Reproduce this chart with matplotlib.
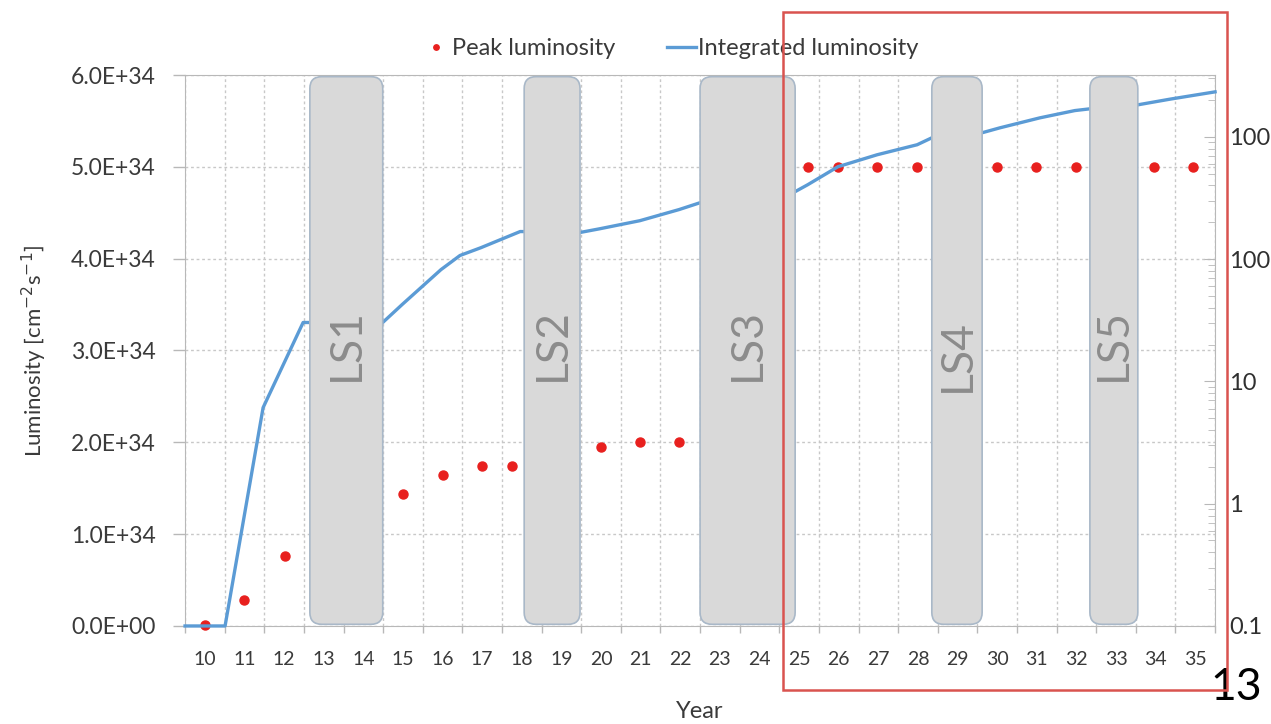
import matplotlib
matplotlib.use("Agg")
import matplotlib.pyplot as plt
import matplotlib.patches as patches
from matplotlib.ticker import FuncFormatter, FixedLocator, LogLocator, NullFormatter

plt.rcParams['font.family'] = ['Lato', 'DejaVu Sans']

# peak luminosity [cm-2 s-1], left axis
peak_years = [10.0, 11.0, 12.02, 15.0, 16.0, 17.0, 17.75, 20.0, 20.98, 21.97,
              25.22, 25.98, 26.97, 27.98, 29.99, 30.98, 31.99, 33.96, 34.94]
peak_lumi = [0.01e34, 0.28e34, 0.76e34, 1.44e34, 1.64e34, 1.74e34, 1.74e34,
             1.95e34, 2.0e34, 2.0e34,
             5.0e34, 5.0e34, 5.0e34, 5.0e34, 5.0e34, 5.0e34, 5.0e34, 5.0e34, 5.0e34]

# integrated luminosity [fb-1], right log axis
int_years = [9.5, 10.51, 11.47, 12.48, 12.65, 14.49, 14.98, 15.96, 16.44, 16.97,
             17.96, 19.47, 19.97, 20.98, 21.97, 22.5, 24.9, 25.22, 25.98, 26.97,
             27.98, 28.35, 29.62, 30.07, 31.08, 31.96, 32.34, 33.55, 34.36, 35.5]
int_lumi = [0.1, 0.1, 6.1, 30.3, 30.3, 30.3, 42.5, 82, 107, 124,
            168, 165, 177, 206, 254, 289, 356, 406, 569, 713,
            861, 981, 1079, 1184, 1429, 1638, 1693, 1825, 2030, 2330]

# long shutdowns (start, end in years)
ls_names = ['LS1', 'LS2', 'LS3', 'LS4', 'LS5']
ls_start = [12.65, 18.06, 22.5, 28.35, 32.34]
ls_end = [14.49, 19.47, 24.9, 29.62, 33.55]
ls_text_y = [0.51, 0.51, 0.51, 0.49, 0.51]

years = list(range(10, 36))

fig = plt.figure(figsize=(12.71, 7.24), dpi=100, facecolor='white')
ax = fig.add_axes([0.1456, 0.1354, 0.8104, 0.761])
ax2 = ax.twinx()

grey_txt = '#3a3a3a'
axis_col = '#b8b8b8'

# left axis
ax.set_xlim(9.5, 35.5)
ax.set_ylim(0, 6e34)
ax.yaxis.set_major_locator(FixedLocator([i * 1e34 for i in range(7)]))
ax.yaxis.set_major_formatter(FuncFormatter(lambda v, p: f"{v:.1E}"))
ax.tick_params(axis='y', colors=axis_col, labelcolor=grey_txt, labelsize=16.5,
               length=9, width=1, pad=12)
ax.grid(axis='y', color='#c8c8c8', linestyle=(0, (2, 2)), linewidth=1)

# x axis: ticks at category borders, labels at centres
ax.xaxis.set_major_locator(FixedLocator([y - 0.5 for y in years] + [35.5]))
ax.xaxis.set_major_formatter(NullFormatter())
ax.xaxis.set_minor_locator(FixedLocator(years))
ax.xaxis.set_minor_formatter(FuncFormatter(lambda v, p: f"{int(round(v))}"))
ax.tick_params(axis='x', which='major', colors=axis_col, length=5, width=1)
ax.tick_params(axis='x', which='minor', length=0, labelcolor=grey_txt,
               labelsize=14, pad=18)
ax.grid(axis='x', which='major', color='#c8c8c8', linestyle=(0, (2, 2)), linewidth=1)
ax.set_axisbelow(True)

for s in ['left', 'bottom', 'top']:
    ax.spines[s].set_color(axis_col)
ax.spines['right'].set_visible(False)

ax.set_xlabel('Year', fontsize=17, color=grey_txt, labelpad=24)
ax.set_ylabel('Luminosity [cm$^{-2}$s$^{-1}$]', fontsize=16, color=grey_txt, labelpad=16)

# right log axis
ax2.set_yscale('log')
ax2.set_ylim(0.1, 3200)
ax2.yaxis.set_major_locator(FixedLocator([0.1, 1, 10, 100, 1000]))
ax2.yaxis.set_major_formatter(FuncFormatter(lambda v, p: f"{v:g}"))
ax2.yaxis.set_minor_locator(LogLocator(base=10, subs=range(2, 10)))
ax2.yaxis.set_minor_formatter(NullFormatter())
ax2.tick_params(axis='y', which='both', direction='in', colors=axis_col,
                labelcolor='#303030', labelsize=17, pad=10)
ax2.tick_params(axis='y', which='major', length=8)
ax2.tick_params(axis='y', which='minor', length=5)
for s in ax2.spines.values():
    s.set_visible(False)
ax2.spines['right'].set_visible(True)
ax2.spines['right'].set_color(axis_col)

line, = ax2.plot(int_years, int_lumi, color='#5b9bd5', lw=2.4, zorder=3,
                 clip_on=False, solid_joinstyle='round')
dots, = ax.plot(peak_years, peak_lumi, 'o', color='#e8201e', markersize=6.5,
                linestyle='none', zorder=4, clip_on=False)

# shutdown boxes
trans = ax2.get_xaxis_transform()
for name, x0, x1, ty in zip(ls_names, ls_start, ls_end, ls_text_y):
    box = patches.FancyBboxPatch((x0, 0.003), x1 - x0, 0.994,
                                 boxstyle="round,pad=0,rounding_size=0.3",
                                 mutation_aspect=39.6 / 551,
                                 transform=trans, facecolor='#d9d9d9',
                                 edgecolor='#a9b8c8', lw=1.2, zorder=5)
    ax2.add_patch(box)
    ax2.text((x0 + x1) / 2, ty, name, transform=trans, rotation=90,
             ha='center', va='center', fontsize=32, color='#8c8c8c',
             zorder=6)

# legend
fig.legend([dots, line], ['Peak luminosity', 'Integrated luminosity'],
           loc='center', bbox_to_anchor=(0.527, 0.933), ncol=2, frameon=False,
           fontsize=17, labelcolor=grey_txt, handlelength=1.2, handletextpad=0.1,
           columnspacing=2.2, markerscale=0.6)

# red highlight frame
frame = patches.Rectangle((783 / 1271, 1 - 690 / 724), (1227 - 783) / 1271,
                          (690 - 12) / 724, transform=fig.transFigure,
                          fill=False, edgecolor='#d9534f', lw=1.8, zorder=10)
fig.add_artist(frame)

fig.text(1236 / 1271, 1 - 687 / 724, '13', ha='center', va='center',
         fontsize=32, color='black')

fig.savefig('out.png', dpi=100)
